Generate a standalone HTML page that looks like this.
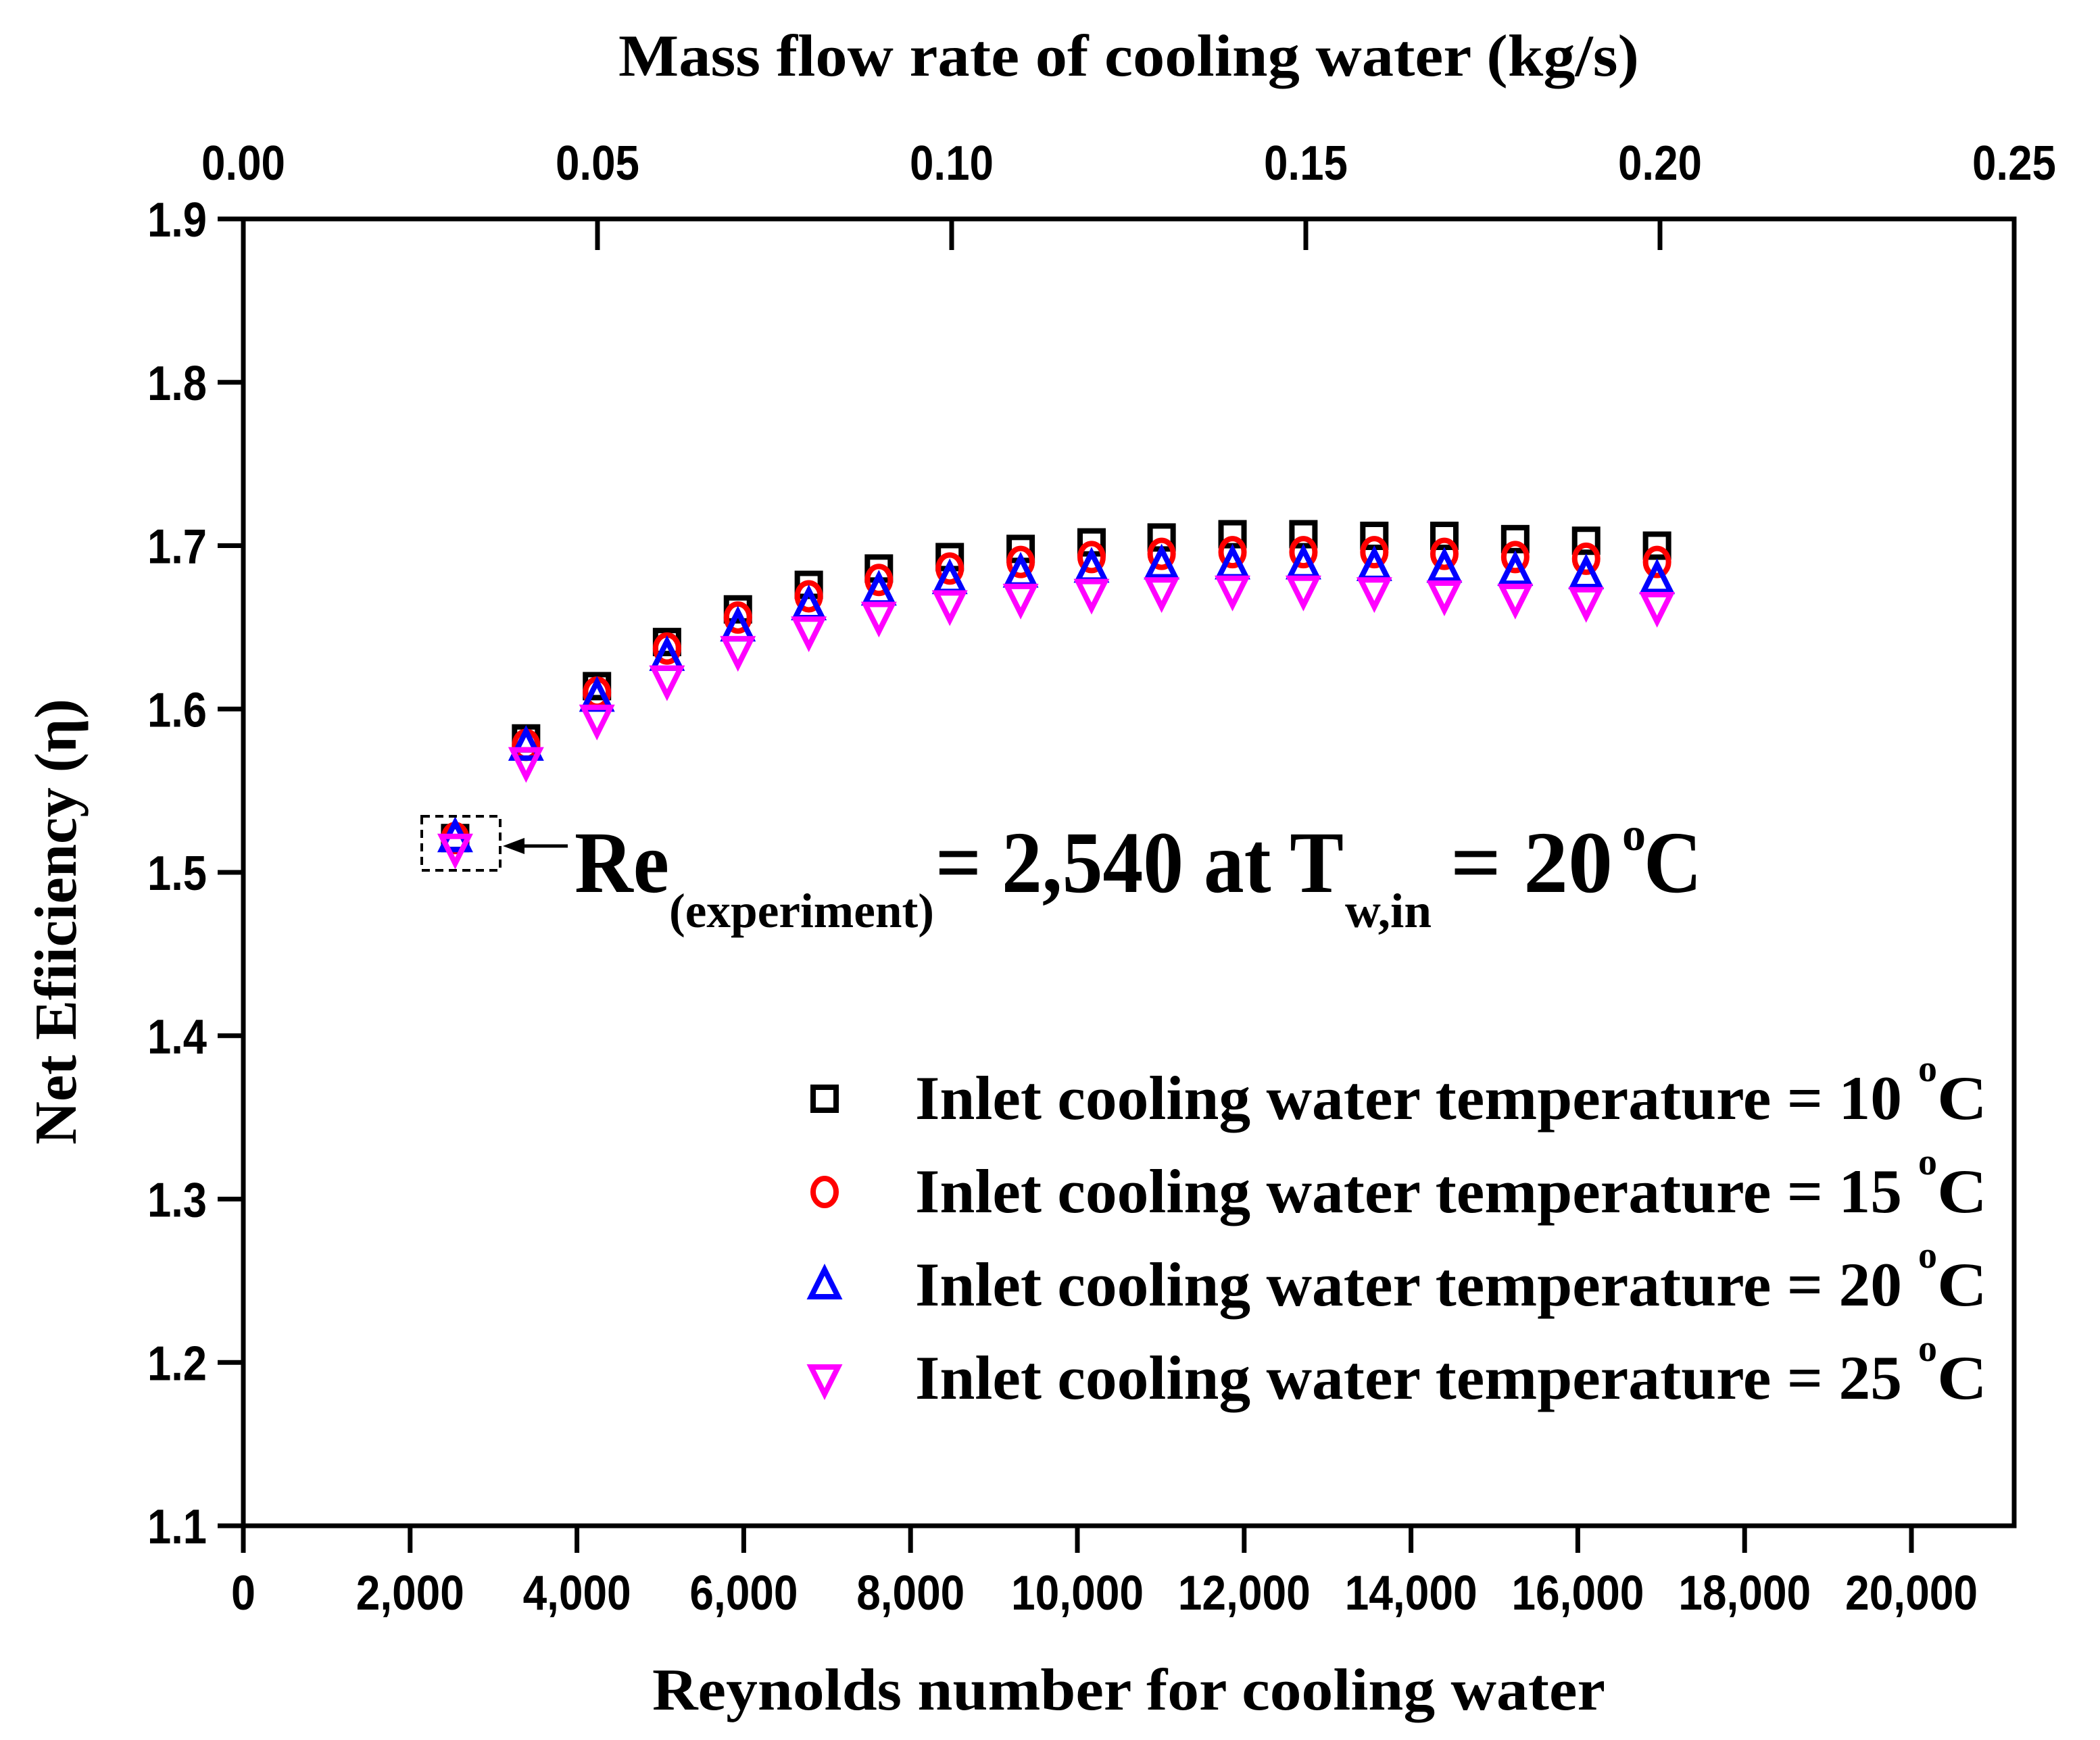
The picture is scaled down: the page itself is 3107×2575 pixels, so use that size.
<!DOCTYPE html>
<html><head><meta charset="utf-8"><style>
html,body{margin:0;padding:0;background:#fff}
svg{display:block}
.tk{font-family:"Liberation Sans",sans-serif;font-weight:bold;font-size:72px}
.ser{font-family:"Liberation Serif",serif;font-weight:bold}
</style></head><body>
<svg id="chart" width="3107" height="2575" viewBox="0 0 3107 2575" xmlns="http://www.w3.org/2000/svg">
<g id="plot"></g>
</svg>
<script>
const reynolds=[2540,3390,4240,5080,5930,6780,7620,8470,9320,10170,11010,11860,12710,13560,14400,15250,16100,16950];
const eta10=[1.521,1.582,1.614,1.641,1.661,1.676,1.686,1.693,1.698,1.702,1.705,1.707,1.707,1.706,1.706,1.704,1.703,1.700];
const eta15=[1.521,1.578,1.610,1.637,1.656,1.669,1.679,1.686,1.690,1.693,1.695,1.696,1.696,1.696,1.695,1.693,1.692,1.690];
const eta20=[1.521,1.577,1.607,1.632,1.650,1.663,1.672,1.679,1.683,1.686,1.688,1.688,1.688,1.687,1.686,1.684,1.682,1.679];
const eta25=[1.515,1.568,1.594,1.618,1.636,1.648,1.657,1.664,1.668,1.671,1.672,1.673,1.673,1.672,1.670,1.668,1.666,1.663];
const yTicks=[1.1,1.2,1.3,1.4,1.5,1.6,1.7,1.8,1.9];
const xTicks=[0,2000,4000,6000,8000,10000,12000,14000,16000,18000,20000];
const xTickLabels=["0","2,000","4,000","6,000","8,000","10,000","12,000","14,000","16,000","18,000","20,000"];
const topTicks=[0,0.05,0.10,0.15,0.20,0.25];
const topTickLabels=["0.00","0.05","0.10","0.15","0.20","0.25"];

const L=360,R=2980,T=324,B=2258;
const NS="http://www.w3.org/2000/svg";
const g=document.getElementById('plot');
function X(re){return L+(re/20000)*(2828-L);}
function Xm(m){return L+(m/0.25)*(R-L);}
function Y(v){return B-(v-1.1)/0.8*(B-T);}
function el(tag,attrs,parent){const e=document.createElementNS(NS,tag);for(const k in attrs)e.setAttribute(k,attrs[k]);(parent||g).appendChild(e);return e;}
function tl(s){let w=0;for(const c of s)w+=(c>='0'&&c<='9')?36:16;return w;}

const frame=el('rect',{x:L,y:T,width:R-L,height:B-T,fill:'none',stroke:'#000','stroke-width':7});



yTicks.forEach(v=>{
  const y=Y(v);
  const t=el('line',{x1:L-38,x2:L,y1:y,y2:y,stroke:'#000','stroke-width':7});
  
  
  const s=v.toFixed(1);
  const lb=el('text',{x:L-54,y:y+26,'text-anchor':'end',class:'tk',textLength:tl(s),lengthAdjust:'spacingAndGlyphs'});
  lb.textContent=s;
  
  
});
xTicks.forEach((v,i)=>{
  const x=X(v);
  const t=el('line',{x1:x,x2:x,y1:B,y2:B+40,stroke:'#000','stroke-width':7});
  
  
  const lb=el('text',{x:x,y:B+124,'text-anchor':'middle',class:'tk',textLength:tl(xTickLabels[i]),lengthAdjust:'spacingAndGlyphs'});
  lb.textContent=xTickLabels[i];
  
  
});
topTicks.forEach((v,i)=>{
  const x=Xm(v);
  if(i>0&&i<topTicks.length-1){
    const t=el('line',{x1:x,x2:x,y1:T,y2:T+46,stroke:'#000','stroke-width':7});
    
    
  }
  const lb=el('text',{x:x,y:T-58,'text-anchor':'middle',class:'tk',textLength:tl(topTickLabels[i]),lengthAdjust:'spacingAndGlyphs'});
  lb.textContent=topTickLabels[i];
  
  
});

function marker(kind,x,y,color,parent){
  const s=17,sw=8;let m;
  if(kind==='sq') m=el('rect',{x:x-s,y:y-s,width:2*s,height:2*s,fill:'none',stroke:color,'stroke-width':sw},parent);
  else if(kind==='ci') m=el('ellipse',{cx:x,cy:y,rx:s,ry:s+3,fill:'none',stroke:color,'stroke-width':sw},parent);
  else if(kind==='up') m=el('polygon',{points:`${x},${y-s-6} ${x+s+3},${y+s} ${x-s-3},${y+s}`,fill:'none',stroke:color,'stroke-width':sw},parent);
  else m=el('polygon',{points:`${x},${y+s+6} ${x+s+3},${y-s} ${x-s-3},${y-s}`,fill:'none',stroke:color,'stroke-width':sw},parent);
  return m;
}
const series=[{d:eta10,k:'sq',c:'#000',n:'series-10c'},{d:eta15,k:'ci',c:'#ff0000',n:'series-15c'},{d:eta20,k:'up',c:'#0000ff',n:'series-20c'},{d:eta25,k:'dn',c:'#ff00ff',n:'series-25c'}];
series.forEach(s=>{
  const grp=el('g',{});
  
  
  s.d.forEach((v,i)=>{
    const m=marker(s.k,X(reynolds[i]),Y(v),s.c,grp);
    
    
  });
});
const legY=[1626,1764,1902,2040];
series.forEach((s,i)=>{
  const m=marker(s.k,1220,legY[i],s.c);
  
  
});
</script>
<svg style="position:absolute;left:0;top:0" width="3107" height="2575" viewBox="0 0 3107 2575" xmlns="http://www.w3.org/2000/svg">
<text class="ser" x="1670" y="112" font-size="88" text-anchor="middle" textLength="1510" lengthAdjust="spacingAndGlyphs">Mass flow rate of cooling water (kg/s)</text>
<text class="ser" x="1670" y="2530" font-size="88" text-anchor="middle" textLength="1410" lengthAdjust="spacingAndGlyphs">Reynolds number for cooling water</text>
<text class="ser" transform="translate(112,1364) rotate(-90)" font-size="88" text-anchor="middle" textLength="660" lengthAdjust="spacingAndGlyphs">Net Efiiciency (η)</text>

<rect x="624" y="1208" width="116" height="80" fill="none" stroke="#000" stroke-width="4" stroke-dasharray="12,8"/>
<line x1="840" y1="1252" x2="770" y2="1252" stroke="#000" stroke-width="5"/>
<polygon points="744,1252 776,1240 776,1264" fill="#000"/>
<g class="ser">
<text x="850" y="1320" font-size="130" textLength="140" lengthAdjust="spacingAndGlyphs">Re</text>
<text x="990" y="1372" font-size="72" textLength="392" lengthAdjust="spacingAndGlyphs">(experiment)</text>
<text x="1384" y="1320" font-size="130" textLength="604" lengthAdjust="spacingAndGlyphs">= 2,540 at T</text>
<text x="1990" y="1372" font-size="72" textLength="128" lengthAdjust="spacingAndGlyphs">w,in</text>
<text x="2146" y="1320" font-size="130" textLength="240" lengthAdjust="spacingAndGlyphs">= 20</text>
<text x="2400" y="1258" font-size="70">o</text>
<text x="2432" y="1320" font-size="130" textLength="86" lengthAdjust="spacingAndGlyphs">C</text>
</g>
<g class="ser" font-size="92">
<text x="1354" y="1656" textLength="1460" lengthAdjust="spacingAndGlyphs">Inlet cooling water temperature = 10</text>
<text x="2838" y="1600" font-size="56">o</text><text x="2866" y="1656" textLength="74" lengthAdjust="spacingAndGlyphs">C</text>
<text x="1354" y="1794" textLength="1460" lengthAdjust="spacingAndGlyphs">Inlet cooling water temperature = 15</text>
<text x="2838" y="1738" font-size="56">o</text><text x="2866" y="1794" textLength="74" lengthAdjust="spacingAndGlyphs">C</text>
<text x="1354" y="1932" textLength="1460" lengthAdjust="spacingAndGlyphs">Inlet cooling water temperature = 20</text>
<text x="2838" y="1876" font-size="56">o</text><text x="2866" y="1932" textLength="74" lengthAdjust="spacingAndGlyphs">C</text>
<text x="1354" y="2070" textLength="1460" lengthAdjust="spacingAndGlyphs">Inlet cooling water temperature = 25</text>
<text x="2838" y="2014" font-size="56">o</text><text x="2866" y="2070" textLength="74" lengthAdjust="spacingAndGlyphs">C</text>
</g>
</svg>
</body></html>
